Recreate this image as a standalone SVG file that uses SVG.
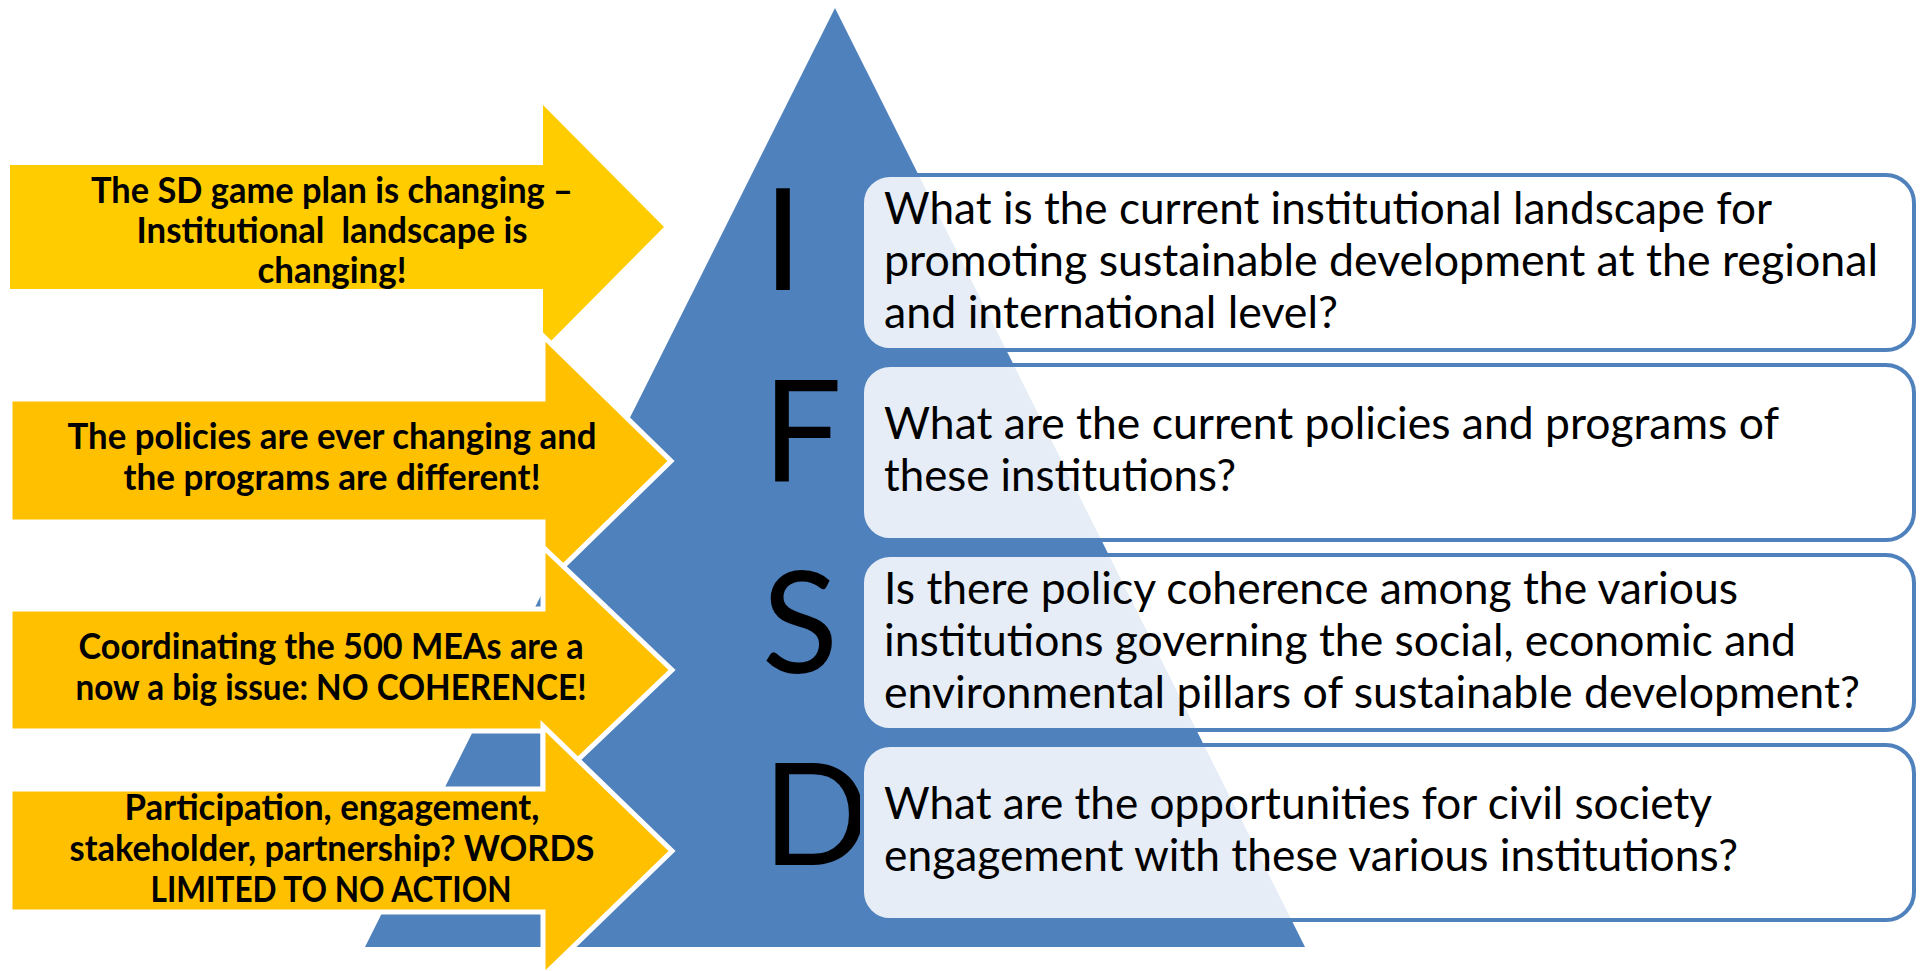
<svg xmlns="http://www.w3.org/2000/svg" width="1921" height="971" viewBox="0 0 1921 971">
<style>
.tri{fill:#4F81BD;}
.arr1{fill:#FFCC00;}
.arr{fill:#FFC000;stroke:#FFFFFF;stroke-width:5;stroke-linejoin:miter;}
.at{font-family:Lato,"Liberation Sans",sans-serif;font-weight:bold;font-size:36px;fill:#000;text-anchor:middle;}
.box{fill:#FFFFFF;fill-opacity:0.86;stroke:#4F81BD;stroke-width:4;}
.bt{font-family:Lato,"Liberation Sans",sans-serif;font-size:45px;fill:#000;}
.big{font-family:Lato,"Liberation Sans",sans-serif;font-size:141px;fill:#000;text-anchor:middle;}
</style>
<rect width="1921" height="971" fill="#FFFFFF"/>
<g id="pyramid">
<polygon class="tri" points="835,8 1305,947 365,947"/>
</g>
<g id="letters">
<text class="big" x="783" y="290">I</text>
<text class="big" x="802" y="482">F</text>
<text class="big" x="800" y="673">S</text>
<text class="big" x="816" y="865">D</text>
</g>
<g id="arrow1">
<path class="arr1" d="M10,165 H543 V105 L664,227 L543,349 V289 H10 Z"/>
<text class="at" x="332" y="203" textLength="482" lengthAdjust="spacingAndGlyphs">The SD game plan is changing –</text>
<text class="at" x="332" y="243" textLength="391" lengthAdjust="spacingAndGlyphs" xml:space="preserve">Institutional  landscape is</text>
<text class="at" x="332" y="283" textLength="149" lengthAdjust="spacingAndGlyphs">changing!</text>
</g>
<g id="arrow2">
<path class="arr" d="M10,399 H543 V336 L671,461 L543,586 V522 H10 Z"/>
<text class="at" x="332" y="449" textLength="529" lengthAdjust="spacingAndGlyphs">The policies are ever changing and</text>
<text class="at" x="332" y="490" textLength="417" lengthAdjust="spacingAndGlyphs">the programs are different!</text>
</g>
<g id="arrow3">
<path class="arr" d="M10,609 H543 V547 L672,670 L543,793 V731 H10 Z"/>
<text class="at" x="331" y="659" textLength="505" lengthAdjust="spacingAndGlyphs">Coordinating the 500 MEAs are a</text>
<text class="at" x="331" y="700" textLength="511" lengthAdjust="spacingAndGlyphs">now a big issue: NO COHERENCE!</text>
</g>
<g id="arrow4">
<path class="arr" d="M10,789 H543 V726 L672,851 L543,976 V912 H10 Z"/>
<text class="at" x="332" y="820" textLength="415" lengthAdjust="spacingAndGlyphs">Participation, engagement,</text>
<text class="at" x="332" y="861" textLength="525" lengthAdjust="spacingAndGlyphs">stakeholder, partnership? WORDS</text>
<text class="at" x="331" y="902" textLength="361" lengthAdjust="spacingAndGlyphs">LIMITED TO NO ACTION</text>
</g>
<g id="box1">
<rect class="box" x="862" y="175" width="1052" height="175" rx="28"/>
<text class="bt" x="884" y="224" textLength="888" lengthAdjust="spacingAndGlyphs">What is the current institutional landscape for</text>
<text class="bt" x="884" y="276" textLength="994" lengthAdjust="spacingAndGlyphs">promoting sustainable development at the regional</text>
<text class="bt" x="884" y="328" textLength="454" lengthAdjust="spacingAndGlyphs">and international level?</text>
</g>
<g id="box2">
<rect class="box" x="862" y="365" width="1052" height="175" rx="28"/>
<text class="bt" x="884" y="439" textLength="895" lengthAdjust="spacingAndGlyphs">What are the current policies and programs of</text>
<text class="bt" x="884" y="491" textLength="352" lengthAdjust="spacingAndGlyphs">these institutions?</text>
</g>
<g id="box3">
<rect class="box" x="862" y="555" width="1052" height="175" rx="28"/>
<text class="bt" x="884" y="604" textLength="854" lengthAdjust="spacingAndGlyphs">Is there policy coherence among the various</text>
<text class="bt" x="884" y="656" textLength="912" lengthAdjust="spacingAndGlyphs">institutions governing the social, economic and</text>
<text class="bt" x="884" y="708" textLength="976" lengthAdjust="spacingAndGlyphs">environmental pillars of sustainable development?</text>
</g>
<g id="box4">
<rect class="box" x="862" y="745" width="1052" height="175" rx="28"/>
<text class="bt" x="884" y="819" textLength="828" lengthAdjust="spacingAndGlyphs">What are the opportunities for civil society</text>
<text class="bt" x="884" y="871" textLength="854" lengthAdjust="spacingAndGlyphs">engagement with these various institutions?</text>
</g>
<g id="connectors"></g>
</svg>
